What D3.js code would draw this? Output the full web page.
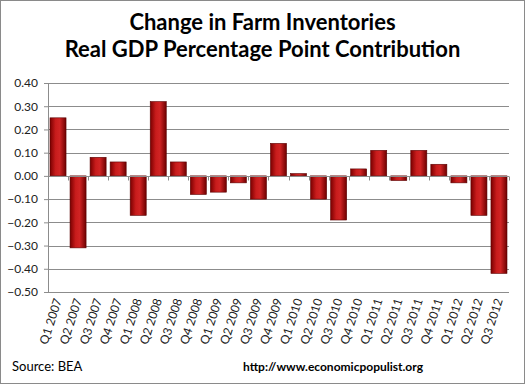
<!DOCTYPE html>
<html>
<head>
<meta charset="utf-8">
<script src="https://cdn.jsdelivr.net/npm/d3@7"></script>
<style>
body { margin:0; background:#fff; }
text { font-family: Lato, "Open Sans", sans-serif; }
</style>
</head>
<body>
<div id="chart-area"></div>
<script>
// Farm inventories contribution to real GDP, percentage points
var quarters = ["Q1 2007","Q2 2007","Q3 2007","Q4 2007","Q1 2008","Q2 2008","Q3 2008","Q4 2008",
	"Q1 2009","Q2 2009","Q3 2009","Q4 2009","Q1 2010","Q2 2010","Q3 2010","Q4 2010",
	"Q1 2011","Q2 2011","Q3 2011","Q4 2011","Q1 2012","Q2 2012","Q3 2012"];
var contrib = [0.25,-0.31,0.08,0.06,-0.17,0.32,0.06,-0.08,
	-0.07,-0.03,-0.10,0.14,0.01,-0.10,-0.19,0.03,
	0.11,-0.02,0.11,0.05,-0.03,-0.17,-0.42];
var yTicks = [0.4,0.3,0.2,0.1,0,-0.1,-0.2,-0.3,-0.4,-0.5];

var W = 525, H = 384;
var margin = { left:48, right:16, top:83, bottom:92 };
var width = W - margin.left - margin.right;
var height = H - margin.top - margin.bottom;

var svg = d3.select("#chart-area")
	.append("svg")
		.attr("width", W)
		.attr("height", H);

// gradient for the bars, dark edges and a lighter middle
var defs = svg.append("defs");
var grad = defs.append("linearGradient")
	.attr("id", "barGrad")
	.attr("x1", "0").attr("x2", "1").attr("y1", "0").attr("y2", "0");
grad.append("stop").attr("offset", "0%").attr("stop-color", "#7a0000");
grad.append("stop").attr("offset", "35%").attr("stop-color", "#c81c1c");
grad.append("stop").attr("offset", "60%").attr("stop-color", "#d02424");
grad.append("stop").attr("offset", "100%").attr("stop-color", "#6e0000");

svg.append("rect")
	.attr("x", 0.5).attr("y", 0.5)
	.attr("width", W - 1).attr("height", H - 1)
	.attr("fill", "none")
	.attr("stroke", "#8a8a8a");

// title
svg.append("text")
	.attr("x", W/2).attr("y", 30)
	.attr("text-anchor", "middle")
	.attr("font-size", "22px").attr("font-weight", "bold")
	.text("Change in Farm Inventories");
svg.append("text")
	.attr("x", W/2).attr("y", 57)
	.attr("text-anchor", "middle")
	.attr("font-size", "22px").attr("font-weight", "bold")
	.text("Real GDP  Percentage Point Contribution");

var g = svg.append("g")
	.attr("transform", "translate(" + margin.left + "," + margin.top + ")");

var x = d3.scaleBand()
	.domain(quarters)
	.range([0, width])
	.paddingInner(0.2)
	.paddingOuter(0.1);

var y = d3.scaleLinear()
	.domain([-0.5, 0.4])
	.range([height, 0]);

// gridlines
g.selectAll("line.grid")
	.data(yTicks)
	.enter().append("line")
		.attr("class", "grid")
		.attr("x1", 0).attr("x2", width)
		.attr("y1", function(d){ return Math.round(y(d)) + 0.5; })
		.attr("y2", function(d){ return Math.round(y(d)) + 0.5; })
		.attr("stroke", "#8c8c8c")
		.attr("stroke-width", 1);

// y axis
var yAxisCall = d3.axisLeft(y)
	.tickValues(yTicks)
	.tickSize(4)
	.tickPadding(6)
	.tickFormat(d3.format(".2f"));
var yAxisGroup = g.append("g").call(yAxisCall);
yAxisGroup.select(".domain").attr("stroke", "#8c8c8c");
yAxisGroup.selectAll(".tick line").attr("stroke", "#8c8c8c");
yAxisGroup.selectAll("text")
	.attr("font-size", "12px").attr("fill", "#222")
	.attr("font-family", "Lato, sans-serif");

// bars
g.selectAll("rect.bar")
	.data(contrib)
	.enter().append("rect")
		.attr("class", "bar")
		.attr("x", function(d, i){ return x(quarters[i]); })
		.attr("width", x.bandwidth())
		.attr("y", function(d){ return y(Math.max(0, d)); })
		.attr("height", function(d){ return Math.abs(y(d) - y(0)); })
		.attr("fill", "url(#barGrad)")
		.attr("stroke", "#5a0000")
		.attr("stroke-width", 0.6);

// zero axis with ticks between categories
var zeroY = Math.round(y(0)) + 0.5;
g.append("line")
	.attr("x1", 0).attr("x2", width)
	.attr("y1", zeroY).attr("y2", zeroY)
	.attr("stroke", "#8c8c8c");
g.selectAll("line.ztick")
	.data(d3.range(quarters.length + 1))
	.enter().append("line")
		.attr("class", "ztick")
		.attr("x1", function(i){ return Math.round(i * width / quarters.length) + 0.5; })
		.attr("x2", function(i){ return Math.round(i * width / quarters.length) + 0.5; })
		.attr("y1", zeroY).attr("y2", zeroY + 4)
		.attr("stroke", "#8c8c8c");

// x labels, rotated
g.selectAll("text.xlab")
	.data(quarters)
	.enter().append("text")
		.attr("class", "xlab")
		.attr("transform", function(d){
			var cx = x(d) + x.bandwidth()/2 + 4;
			return "translate(" + cx + "," + (height + 8) + ") rotate(-72)";
		})
		.attr("text-anchor", "end")
		.attr("font-size", "12px")
		.attr("fill", "#222")
		.text(function(d){ return d; });

// footer
svg.append("text")
	.attr("x", 12).attr("y", 371)
	.attr("font-size", "13px")
	.text("Source:  BEA");
svg.append("text")
	.attr("x", 243).attr("y", 371)
	.attr("font-size", "12px").attr("font-weight", "bold")
	.text("http://www.economicpopulist.org");
</script>
</body>
</html>
